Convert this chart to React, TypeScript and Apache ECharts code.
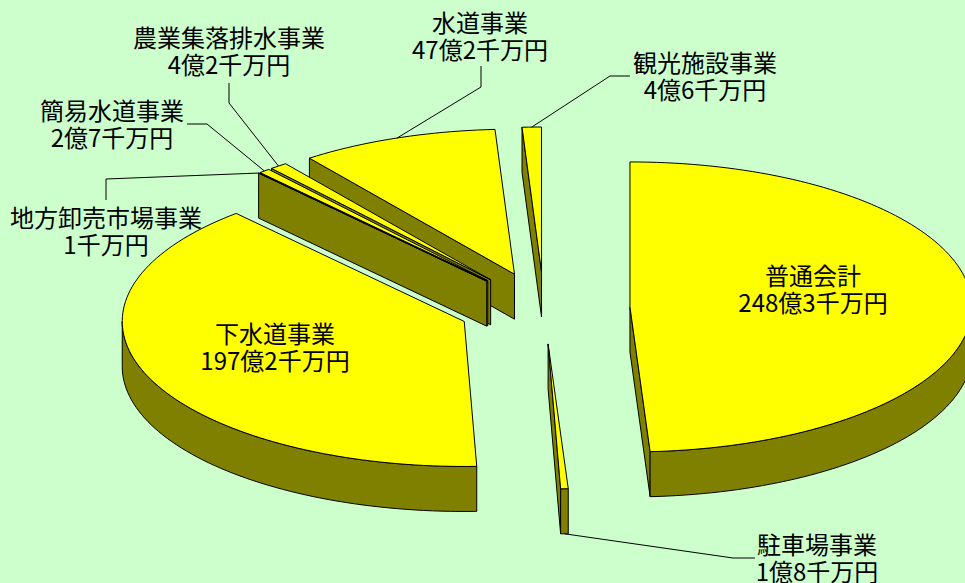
import React, { useEffect, useRef } from "react";
import * as echarts from "echarts";

// Settlement amounts by account, in units of 100 million yen, clockwise from twelve o'clock.
const accountNames = [
  "普通会計",
  "駐車場事業",
  "下水道事業",
  "地方卸売市場事業",
  "簡易水道事業",
  "農業集落排水事業",
  "水道事業",
  "観光施設事業",
];
const amounts = [248.3, 1.8, 197.2, 0.1, 2.7, 4.2, 47.2, 4.6];
const amountLabels = [
  "248億3千万円",
  "1億8千万円",
  "197億2千万円",
  "1千万円",
  "2億7千万円",
  "4億2千万円",
  "47億2千万円",
  "4億6千万円",
];

// Label centre and the elbow of its leader line; inside labels have no leader.
const labelCentres: [number, number][] = [
  [813, 288],
  [817, 557],
  [275, 346],
  [106, 230],
  [112, 123],
  [229, 50],
  [480, 35],
  [705, 75],
];
const leaderElbows: ([number, number][] | null)[] = [
  null,
  [[755, 558], [733, 558]],
  null,
  [[106, 200], [106, 179]],
  [[187, 124], [207, 124]],
  [[229, 83], [229, 103]],
  [[481, 66], [481, 87]],
  [[630, 76], [610, 76]],
];

// Projection of the tilted pie onto the page.
const CX = 544;
const CY = 308;
const RX = 342;
const RY = 145;
const EXPLODE_X = 86;
const EXPLODE_Y = 36;
const DEPTH = 45;

const TOP_COLOR = "#FFFF00";
const WALL_COLOR = "#808000";
const EDGE_COLOR = "#000000";
const PAGE_COLOR = "#CCFFCC";
const FONT = '"Noto Sans CJK JP", sans-serif';

const total = amounts.reduce((a, b) => a + b, 0);
const rad = (deg: number) => (deg * Math.PI) / 180;

type Pt = [number, number];

function onEllipse(o: Pt, deg: number): Pt {
  return [o[0] + RX * Math.sin(rad(deg)), o[1] - RY * Math.cos(rad(deg))];
}

function arcPoints(o: Pt, from: number, to: number): Pt[] {
  const n = Math.max(2, Math.ceil((to - from) / 1.5) + 1);
  const pts: Pt[] = [];
  for (let i = 0; i < n; i++) pts.push(onEllipse(o, from + ((to - from) * i) / (n - 1)));
  return pts;
}

function wallPolygon(edge: Pt[]) {
  const lower = edge.map(([x, y]) => [x, y + DEPTH] as Pt).reverse();
  return {
    type: "polygon",
    shape: { points: [...edge, ...lower] },
    style: { fill: WALL_COLOR, stroke: EDGE_COLOR, lineWidth: 1, lineJoin: "round" },
  };
}

function renderSlice(params: any, api: any) {
  const i = api.value(1) as number;
  const value = api.value(0) as number;
  const before = amounts.slice(0, i).reduce((a, b) => a + b, 0);
  const start = (before / total) * 360;
  const end = start + (value / total) * 360;
  const mid = (start + end) / 2;

  const apex: Pt = [
    CX + EXPLODE_X * Math.sin(rad(mid)),
    CY - EXPLODE_Y * Math.cos(rad(mid)),
  ];
  const startPt = onEllipse(apex, start);
  const endPt = onEllipse(apex, end);
  const children: any[] = [];
  const z2 = Math.round(apex[1] * 10);

  // Only the faces turned toward the viewer get a wall.
  if (endPt[0] > apex[0]) children.push(wallPolygon([endPt, apex]));
  if (apex[0] > startPt[0]) children.push(wallPolygon([apex, startPt]));
  const frontFrom = Math.max(start, 90);
  const frontTo = Math.min(end, 270);
  if (frontTo > frontFrom) children.push(wallPolygon(arcPoints(apex, frontFrom, frontTo)));

  children.push({
    type: "polygon",
    shape: { points: [apex, ...arcPoints(apex, start, end)] },
    style: { fill: TOP_COLOR, stroke: EDGE_COLOR, lineWidth: 1, lineJoin: "round" },
  });
  children.forEach((c) => (c.z2 = z2));

  const elbow = leaderElbows[i];
  if (elbow) {
    const touch = onEllipse(apex, mid);
    if (mid > 90 && mid < 270) touch[1] += DEPTH;
    children.push({
      type: "polyline",
      z2: 90000,
      shape: { points: [...elbow, touch] },
      style: { fill: "none", stroke: EDGE_COLOR, lineWidth: 1 },
    });
  }

  const [lx, ly] = labelCentres[i];
  children.push({
    type: "text",
    z2: 100000,
    x: lx,
    y: ly,
    style: {
      text: `${accountNames[i]}\n${amountLabels[i]}`,
      fill: "#000000",
      font: `400 24px ${FONT}`,
      lineHeight: 27,
      align: "center",
      verticalAlign: "middle",
    },
  });

  return { type: "group", children };
}

export default function App() {
  const host = useRef<HTMLDivElement>(null);

  useEffect(() => {
    document.body.style.margin = "0";
    const chart = echarts.init(host.current!, null, { renderer: "svg" });
    chart.setOption({
      animation: false,
      backgroundColor: PAGE_COLOR,
      series: [
        {
          type: "custom",
          coordinateSystem: "none",
          silent: true,
          clip: false,
          data: amounts.map((v, i) => [v, i]),
          encode: { value: [0, 1] },
          renderItem: renderSlice,
        },
      ],
    });
    return () => chart.dispose();
  }, []);

  return <div ref={host} style={{ width: 965, height: 583, overflow: "hidden" }} />;
}
